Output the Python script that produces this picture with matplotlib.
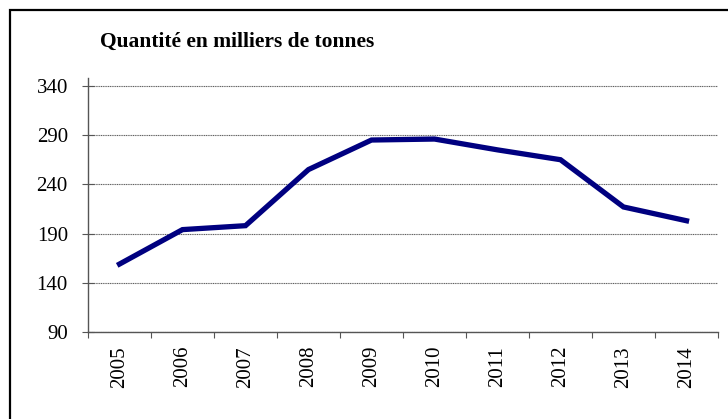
import numpy as np
import matplotlib.pyplot as plt
from matplotlib.patches import Rectangle

years = ['2005', '2006', '2007', '2008', '2009', '2010', '2011', '2012', '2013', '2014']
quantite = [159, 194, 198, 255, 285, 286, 275, 265, 217, 203]
yticks = [90, 140, 190, 240, 290, 340]

plt.rcParams['font.family'] = ['Liberation Serif', 'DejaVu Serif']

fig = plt.figure(figsize=(7.28, 4.19), dpi=100)
ax = fig.add_axes([88/728, 1 - 332/419, (718 - 88)/728, (332 - 78)/419])

x = np.arange(len(years))
ax.plot(x, quantite, color='#000080', lw=3.8, solid_joinstyle='miter')

ax.set_xlim(-0.5, len(years) - 0.5)
ax.set_ylim(90, 348)
ax.set_yticks(yticks)
ax.set_yticklabels([str(v) for v in yticks], fontsize=15)
ax.yaxis.grid(True, linestyle=(0, (1, 0.6)), color='#606060', lw=0.8)
ax.set_axisbelow(True)

# ticks between categories, labels in the middle
ax.set_xticks(np.arange(-0.5, len(years), 1.0))
ax.set_xticklabels([])
ax.set_xticks(x, minor=True)
ax.set_xticklabels(years, minor=True, rotation=90, fontsize=15)
ax.tick_params(axis='x', which='major', direction='out', length=4, color='#555555')
ax.tick_params(axis='x', which='minor', length=0, pad=10)
ax.tick_params(axis='y', direction='inout', length=9, color='#555555', pad=10)

for s in ['top', 'right']:
    ax.spines[s].set_visible(False)
for s in ['left', 'bottom']:
    ax.spines[s].set_color('#555555')
    ax.spines[s].set_linewidth(1)

fig.text(100/728, 1 - 47/419, 'Quantité en milliers de tonnes', fontsize=15.5,
         fontweight='bold', ha='left', va='baseline')

# frame around the chart (cut by the image at right and bottom)
fig.patches.append(Rectangle((10/728, -0.2), 1.2, 1.2 - 10/419,
                             transform=fig.transFigure, fill=False,
                             edgecolor='black', lw=1.6))

fig.savefig('out.png', dpi=100)
